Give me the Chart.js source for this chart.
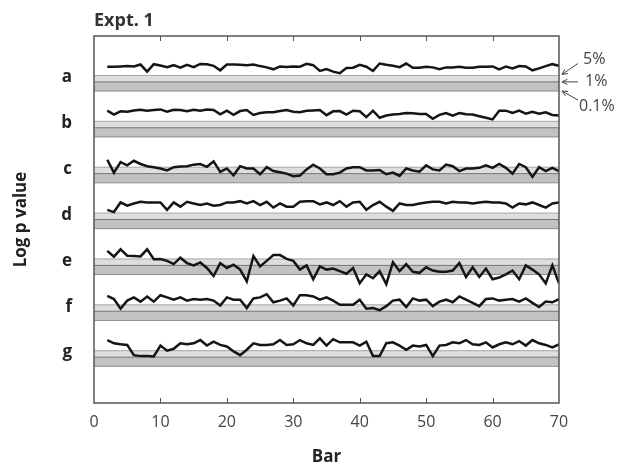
<!DOCTYPE html>
<html>
<head>
<meta charset="utf-8">
<title>Expt. 1</title>
<script src="https://cdn.jsdelivr.net/npm/chart.js@4/dist/chart.umd.min.js"></script>
<style>
  html, body { margin: 0; padding: 0; background: #fff; }
  #wrap { width: 632px; height: 467px; position: relative; }
</style>
</head>
<body>
<div id="wrap"><canvas id="pvalChart"></canvas></div>
<script>
// bar numbers (x) and log p value per bar for each row
const bars = [2, 3, 4, 5, 6, 7, 8, 9, 10, 11, 12, 13, 14, 15, 16, 17, 18, 19, 20, 21,
    22, 23, 24, 25, 26, 27, 28, 29, 30, 31, 32, 33, 34, 35, 36, 37, 38, 39, 40, 41,
    42, 43, 44, 45, 46, 47, 48, 49, 50, 51, 52, 53, 54, 55, 56, 57, 58, 59, 60, 61,
    62, 63, 64, 65, 66, 67, 68, 69, 70];

const rowLabels = ["a", "b", "c", "d", "e", "f", "g"];

const rowA = [-0.35, -0.35, -0.32, -0.28, -0.32, -0.11, -0.88, -0.07, -0.21, -0.39,
    -0.18, -0.46, -0.14, -0.39, -0.04, -0.07, -0.25, -0.74, -0.11, -0.11,
    -0.14, -0.18, -0.11, -0.28, -0.42, -0.63, -0.32, -0.39, -0.32, -0.35,
    -0.04, -0.18, -0.81, -0.60, -0.88, -1.05, -0.49, -0.46, -0.14, -0.35,
    -0.81, 0.00, -0.14, -0.25, -0.39, 0.00, -0.46, -0.46, -0.35, -0.42,
    -0.63, -0.42, -0.42, -0.35, -0.46, -0.46, -0.35, -0.35, -0.32, -0.63,
    -0.32, -0.53, -0.28, -0.32, -0.74, -0.53, -0.28, -0.07, -0.25];
const rowB = [-0.14, -0.56, -0.21, -0.25, -0.11, -0.04, -0.14, -0.07, 0.00, -0.25,
    -0.04, -0.07, -0.21, -0.04, -0.14, 0.00, -0.07, -0.53, -0.14, -0.60,
    -0.18, -0.07, -0.60, -0.39, -0.32, -0.32, -0.18, -0.07, -0.25, -0.32,
    -0.14, -0.11, -0.07, -0.63, -0.21, -0.18, -0.56, -0.14, -0.21, -0.84,
    -0.14, -0.91, -0.67, -0.56, -0.49, -0.39, -0.42, -0.49, -0.49, -1.02,
    -0.60, -0.39, -0.67, -0.39, -0.53, -0.56, -0.74, -0.91, -1.09, -0.14,
    -0.14, -0.39, -0.14, -0.46, -0.25, -0.46, -0.32, -0.60, -0.67];
const rowC = [-0.49, -1.89, -0.74, -1.09, -0.60, -0.95, -1.19, -1.30, -1.44, -1.65,
    -1.30, -1.23, -1.19, -1.02, -0.95, -1.26, -0.67, -1.82, -1.44, -2.18,
    -1.19, -1.44, -1.44, -2.07, -1.30, -1.72, -1.86, -2.00, -2.28, -2.21,
    -1.54, -1.02, -1.44, -2.07, -2.07, -1.89, -1.44, -1.30, -1.30, -1.65,
    -1.65, -1.61, -2.07, -1.89, -2.25, -1.44, -1.65, -1.79, -1.09, -1.54,
    -1.65, -1.02, -1.19, -1.72, -1.44, -1.44, -1.37, -1.09, -1.37, -0.95,
    -1.37, -2.00, -0.95, -1.30, -2.35, -1.30, -1.72, -1.37, -1.72];
const rowD = [-0.95, -1.19, -0.14, -0.49, -0.25, -0.07, -0.14, -0.14, -0.14, -0.95,
    -0.14, -0.60, -0.07, -0.25, -0.42, -0.25, -0.49, -0.42, -0.14, -0.14,
    0.00, -0.25, 0.00, -0.42, -0.07, -0.70, -0.25, -0.60, -0.60, -0.07,
    0.00, 0.00, -0.35, -0.14, -0.42, 0.00, -0.60, -0.14, -0.07, -0.95,
    -0.42, -0.07, -0.60, -1.05, -0.25, -0.42, -0.42, -0.25, -0.14, -0.07,
    -0.07, -0.25, -0.07, -0.14, -0.14, -0.25, -0.14, -0.07, -0.14, -0.14,
    -0.25, -0.70, -0.25, -0.35, -0.14, -0.42, -0.70, -0.25, -0.14];
const rowE = [-0.42, -1.05, -0.25, -0.95, -0.98, -1.02, -0.25, -1.33, -1.30, -1.51,
    -1.86, -1.16, -1.75, -2.00, -1.68, -2.28, -3.16, -1.75, -2.28, -1.93,
    -2.46, -3.75, -0.98, -2.11, -1.51, -0.88, -0.88, -1.30, -1.51, -2.46,
    -2.00, -3.51, -2.11, -2.46, -2.35, -2.63, -2.91, -2.28, -3.96, -2.98,
    -3.40, -2.63, -4.04, -1.65, -2.63, -1.86, -2.70, -2.81, -2.21, -2.56,
    -2.70, -2.70, -2.56, -1.75, -3.26, -2.21, -3.26, -2.35, -3.51, -3.33,
    -2.98, -2.56, -3.51, -2.00, -2.46, -2.98, -3.96, -2.00, -3.96];
const rowF = [-0.32, -0.67, -1.72, -0.84, -0.49, -0.95, -0.39, -0.95, -0.25, -0.49,
    -0.74, -0.49, -0.84, -0.67, -0.74, -0.67, -0.84, -1.37, -0.49, -0.74,
    -0.74, -1.65, -0.60, -0.49, -0.14, -1.02, -0.84, -0.60, -1.37, -0.25,
    -0.25, -0.39, -0.74, -0.49, -0.84, -1.30, -1.30, -1.30, -0.74, -1.72,
    -1.65, -1.89, -1.44, -0.84, -0.74, -1.54, -0.60, -0.84, -0.74, -1.44,
    -0.95, -0.74, -1.02, -0.39, -0.74, -1.09, -1.44, -0.67, -0.60, -0.84,
    -0.74, -0.67, -0.95, -0.60, -1.09, -1.54, -0.95, -1.02, -0.67];
const rowG = [-0.14, -0.49, -0.60, -0.67, -1.79, -1.89, -1.89, -1.93, -0.74, -1.30,
    -1.09, -0.49, -0.60, -0.49, -0.14, -0.74, -0.32, -0.67, -0.84, -1.37,
    -1.79, -1.19, -0.49, -0.67, -0.67, -0.60, -0.14, -0.67, -0.60, -0.14,
    -0.49, -0.67, 0.04, -0.74, -0.04, -0.39, -0.39, -0.39, -0.74, -0.32,
    -1.89, -1.89, -0.49, -0.39, -0.74, -1.19, -0.74, -0.84, -0.67, -1.89,
    -0.74, -0.67, -0.39, -0.49, -0.14, -0.60, -0.67, -0.39, -0.95, -0.60,
    -0.39, -0.60, -0.25, -0.74, -0.14, -0.49, -0.67, -0.95, -0.60];

// significance levels: 5%, 1%, 0.1% as log10 p
const sigLabels = ["5%", "1%", "0.1%"];
const sigLogP = [-1.3, -2, -3];

const xTicks = [0, 10, 20, 30, 40, 50, 60, 70];

// layout: each row is shifted up the axis so the 7 traces stack
const rowOffsets = [37, 32, 27, 22, 17, 12, 7];
const allRows = [rowA, rowB, rowC, rowD, rowE, rowF, rowG];

const FONT = "'Open Sans', 'DejaVu Sans', sans-serif";
Chart.defaults.font.family = FONT;

function arrow(ctx, x0, y0, x1, y1) {
    const ang = Math.atan2(y1 - y0, x1 - x0);
    const len = 6;
    ctx.beginPath();
    ctx.moveTo(x0, y0);
    ctx.lineTo(x1, y1);
    ctx.moveTo(x1 - len * Math.cos(ang - 0.45), y1 - len * Math.sin(ang - 0.45));
    ctx.lineTo(x1, y1);
    ctx.lineTo(x1 - len * Math.cos(ang + 0.45), y1 - len * Math.sin(ang + 0.45));
    ctx.stroke();
}

const decorPlugin = {
    id: "decor",
    beforeDatasetsDraw(chart) {
        const { ctx, chartArea: a, scales: { y } } = chart;
        ctx.save();
        rowOffsets.forEach((off) => {
            const y5 = y.getPixelForValue(off + sigLogP[0]);
            const y1 = y.getPixelForValue(off + sigLogP[1]);
            const y01 = y.getPixelForValue(off + sigLogP[2]);
            ctx.fillStyle = "#dedede";
            ctx.fillRect(a.left, y5, a.width, y1 - y5);
            ctx.fillStyle = "#c2c2c2";
            ctx.fillRect(a.left, y1, a.width, y01 - y1);
            ctx.lineWidth = 1;
            [[y5, "#a6a6a6"], [y1, "#767676"], [y01, "#8c8c8c"]].forEach(([py, col]) => {
                ctx.strokeStyle = col;
                ctx.beginPath();
                ctx.moveTo(a.left, py);
                ctx.lineTo(a.right, py);
                ctx.stroke();
            });
        });
        ctx.restore();
    },
    afterDatasetsDraw(chart) {
        const { ctx, chartArea: a, scales: { x, y } } = chart;
        ctx.save();
        // frame and inward ticks
        ctx.strokeStyle = "#555";
        ctx.lineWidth = 1.5;
        ctx.strokeRect(a.left, a.top, a.width, a.height);
        ctx.lineWidth = 1;
        xTicks.slice(1, -1).forEach((v) => {
            const px = Math.round(x.getPixelForValue(v)) + 0.5;
            ctx.beginPath();
            ctx.moveTo(px, a.top);
            ctx.lineTo(px, a.top + 5);
            ctx.moveTo(px, a.bottom);
            ctx.lineTo(px, a.bottom - 5);
            ctx.stroke();
        });
        // panel title
        ctx.fillStyle = "#333";
        ctx.font = "bold 18px " + FONT;
        ctx.textBaseline = "middle";
        ctx.textAlign = "left";
        ctx.fillText("Expt. 1", a.left, 21);
        // significance level notes on the first row
        ctx.font = "16px " + FONT;
        ctx.fillStyle = "#444";
        ctx.strokeStyle = "#444";
        ctx.lineWidth = 1;
        const tipX = a.right + 3;
        const offs = [-16, 0, 15];
        const textX = [a.right + 24, a.right + 26, a.right + 20];
        const tailDy = [-12, 0, 9];
        sigLogP.forEach((lv, k) => {
            const py = y.getPixelForValue(rowOffsets[0] + lv);
            ctx.fillText(sigLabels[k], textX[k], py + offs[k]);
            arrow(ctx, a.right + 19, py + tailDy[k], tipX, py + (k === 0 ? -1 : 0));
        });
        ctx.restore();
    },
};

const ctx = document.getElementById("pvalChart").getContext("2d");
new Chart(ctx, {
    type: "line",
    data: {
        datasets: allRows.map((vals, k) => ({
            label: rowLabels[k],
            data: vals.map((v, j) => ({ x: bars[j], y: v + rowOffsets[k] })),
            borderColor: "#151515",
            borderWidth: 2.5,
            pointRadius: 0,
            tension: 0,
            fill: false,
        })),
    },
    options: {
        responsive: true,
        maintainAspectRatio: false,
        animation: false,
        layout: { padding: { top: 36, right: 73, left: 0, bottom: 0 } },
        plugins: {
            legend: { display: false },
            tooltip: { enabled: false },
        },
        scales: {
            x: {
                type: "linear",
                min: 0,
                max: 70,
                afterBuildTicks: (scale) => {
                    scale.ticks = xTicks.map((v) => ({ value: v }));
                },
                afterFit: (scale) => {
                    scale.height = 64;
                },
                grid: { display: false, drawTicks: false },
                border: { display: false },
                ticks: {
                    color: "#444",
                    font: { size: 16 },
                    padding: 10,
                    maxRotation: 0,
                },
                title: {
                    display: true,
                    text: "Bar",
                    color: "#222",
                    font: { size: 17, weight: "bold" },
                    padding: { top: 0, bottom: 0 },
                },
            },
            y: {
                type: "linear",
                min: 0,
                max: 40,
                afterBuildTicks: (scale) => {
                    scale.ticks = rowOffsets.map((o) => ({ value: o - 1.5 }));
                },
                afterFit: (scale) => {
                    scale.width = 94;
                },
                grid: { display: false, drawTicks: false },
                border: { display: false },
                ticks: {
                    color: "#222",
                    font: { size: 17, weight: "bold" },
                    padding: 22,
                    callback: (value, index) => rowLabels[index],
                },
                title: {
                    display: true,
                    text: "Log p value",
                    color: "#222",
                    font: { size: 17, weight: "bold" },
                    padding: { top: 11, bottom: 0 },
                },
            },
        },
    },
    plugins: [decorPlugin],
});
</script>
</body>
</html>
